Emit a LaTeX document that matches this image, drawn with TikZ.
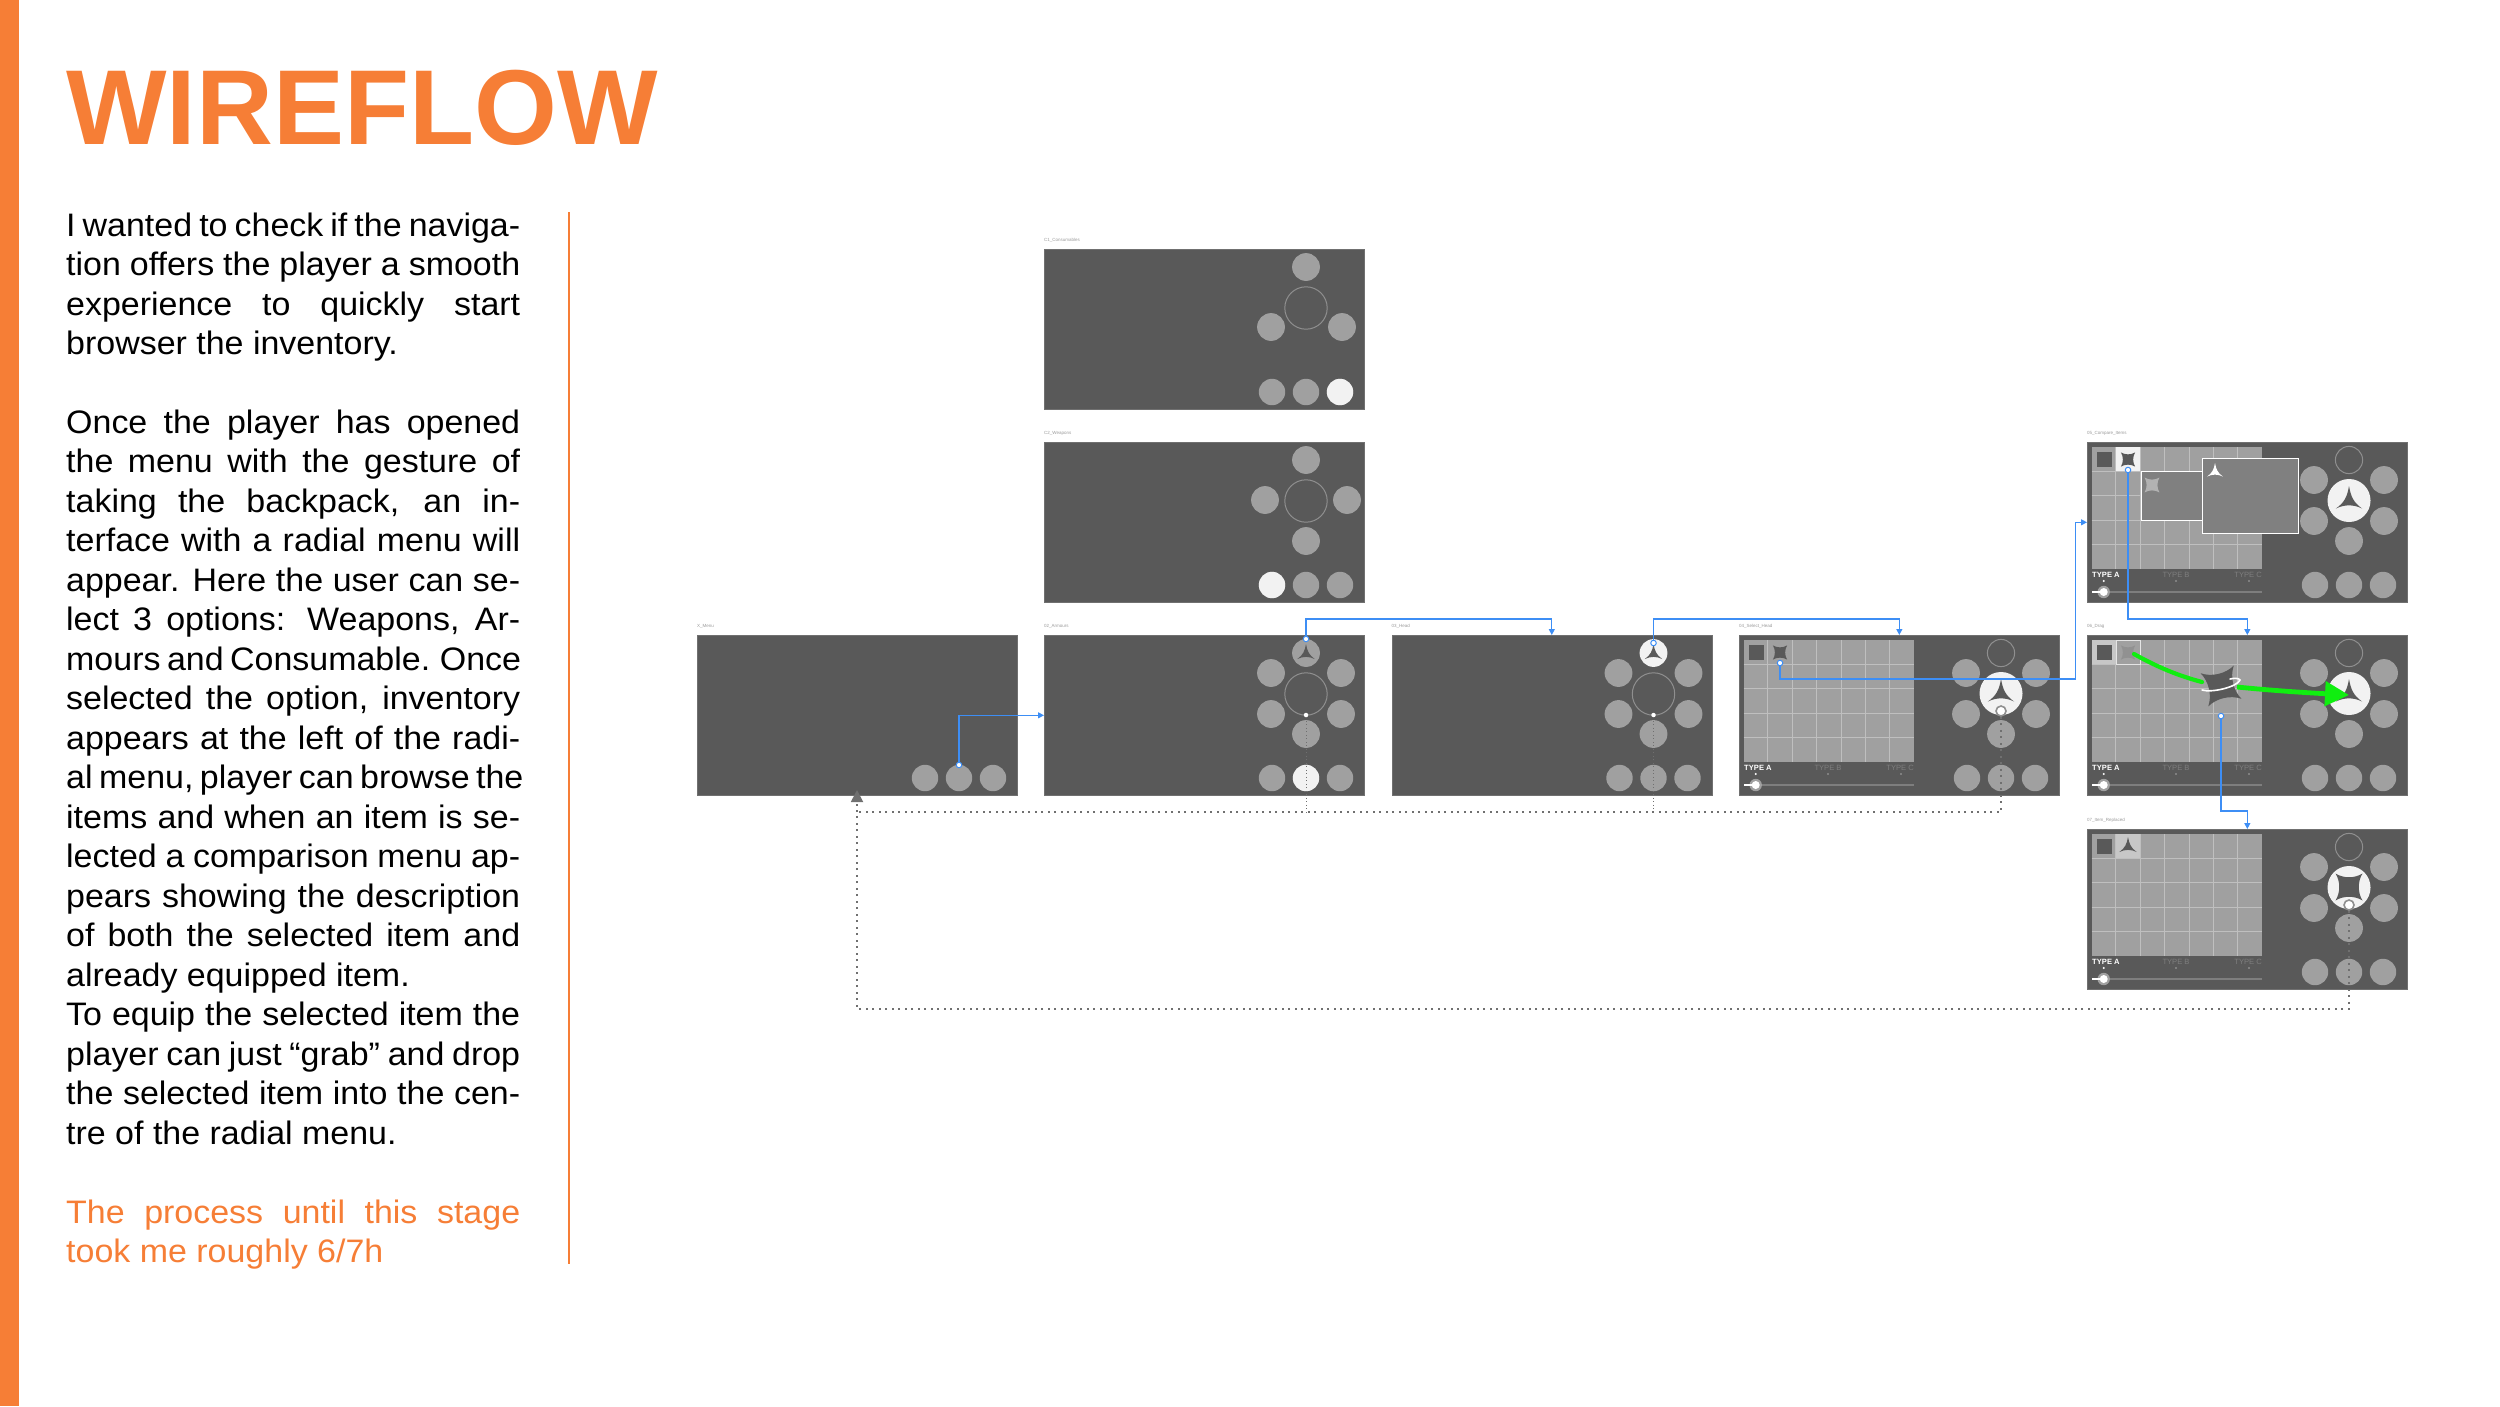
\documentclass[tikz,border=0pt]{standalone}
\usepackage{fontspec}
\setmainfont{Liberation Sans}
\newfontfamily\copyfont[FakeStretch=1.045]{Liberation Sans}
\usetikzlibrary{arrows.meta,positioning,calc}
\definecolor{brand}{HTML}{F67E36}
\definecolor{panel}{HTML}{595959}
\definecolor{knob}{HTML}{A0A0A0}
\definecolor{litknob}{HTML}{F2F2F2}
\definecolor{rim}{HTML}{8F8F8F}
\definecolor{link}{HTML}{3D8EF5}
\definecolor{backlink}{HTML}{707070}
\definecolor{dragline}{HTML}{10EE10}
\hyphenpenalty=10000
\tolerance=10000
% lines of the column that run a little long
\newcommand{\tightline}[1]{\hbox to 454pt{\spaceskip=6.5pt plus 10pt\relax #1}}
% radial menu and inventory parts, in pixels from the top left of a screen
\newcommand{\outerdiscs}{\foreach \px/\py in {227/38,297/38,227/79,297/79,262/99} {\fill[knob] (\px,\py) circle (13.9pt);}}
\newcommand{\bottomrow}[1]{\foreach \px in {228,262,296} {\fill[knob] (\px,143) circle (13.2pt);}
  \ifnum#1>0 \fill[litknob] (#1,143) circle (13.2pt);\fi}
\newcommand{\centrering}{\draw[rim,line width=1pt] (262,59) circle (21.2pt);}
\newcommand{\centredisc}{\fill[litknob] (262,58.5) circle (21.5pt);}
\newcommand{\topring}{\draw[rim,line width=1pt] (262,18) circle (13.6pt);}
\newcommand{\triicon}[4]{\fill[#4,shift={(#1,#2)},scale=#3] (0,-1) .. controls (0.12,-0.3) and (0.3,0.1) .. (0.87,0.5) .. controls (0.3,0.22) and (-0.3,0.22) .. (-0.87,0.5) .. controls (-0.3,0.1) and (-0.12,-0.3) .. (0,-1) -- cycle;}
\newcommand{\staricon}[5]{\fill[#4,shift={(#1,#2)},rotate=#5,scale=#3] (-0.71,-0.71) .. controls (-0.3,-0.45) and (0.3,-0.45) .. (0.71,-0.71) .. controls (0.45,-0.3) and (0.45,0.3) .. (0.71,0.71) .. controls (0.3,0.45) and (-0.3,0.45) .. (-0.71,0.71) .. controls (-0.45,0.3) and (-0.45,-0.3) .. (-0.71,-0.71) -- cycle;}
\newcommand{\inventory}[1]{
  \fill[knob] (4.5,5) rectangle (175,126.5);
  \foreach \k in {1,...,6} {\draw[gridline] ({4.5+24.36*\k},5) -- ({4.5+24.36*\k},126.5);}
  \foreach \k in {1,...,4} {\draw[gridline] (4.5,{5+24.3*\k}) -- (175,{5+24.3*\k});}
  \node[typetag,text=white,font=\fontsize{7.6}{8}\selectfont\bfseries,anchor=west] (#1typea) at (5,133) {TYPE A};
  \node[typetag,anchor=center] (#1typeb) at (89,133) {TYPE B};
  \node[typetag,anchor=east] (#1typec) at (175,133) {TYPE C};
  \fill[white] (16.7,139) circle (1.2pt);
  \fill[backlink!80] (89,139) circle (1.2pt) (162,139) circle (1.2pt);
  \draw[backlink!90,line width=1.6pt] (5,150) -- (175,150);
  \fill[knob] (16.7,150) circle (6.2pt);
  \draw[white,line width=1.6pt] (5,150) -- (16.7,150);
  \fill[white] (16.7,150) circle (4pt);
  \fill[panel] (9.5,10) rectangle (24.5,25);
}
\begin{document}
\begin{tikzpicture}[x=1pt,y=-1pt,
  screen/.style={fill=panel,draw=backlink,line width=0.6pt,minimum width=320pt,minimum height=160pt,inner sep=0pt,anchor=north west},
  knob/.style={fill=knob},
  tag/.style={font=\fontsize{4.5}{5}\selectfont,text=black!40,inner sep=0pt},
  typetag/.style={font=\fontsize{7.6}{8}\selectfont,text=backlink!90,inner sep=0pt},
  gridline/.style={draw=black!25,line width=0.8pt},
  hotspot/.style={circle,draw=link,fill=white,line width=1pt,minimum size=5.5pt,inner sep=0pt},
  backspot/.style={circle,fill=white,minimum size=4.5pt,inner sep=0pt},
  backring/.style={circle,draw=rim,fill=white,line width=1.6pt,minimum size=10pt,inner sep=0pt},
  flow/.style={link,line width=1.2pt,-{Triangle[length=6pt,width=6pt]}},
  backflow/.style={backlink,line width=1.8pt,dash pattern=on 1.8pt off 4.7pt},
  thinback/.style={backlink,line width=1pt,dash pattern=on 1pt off 2.5pt},
  copy/.style={anchor=north west,inner sep=0pt,text width=454pt,align=justify,font=\copyfont\fontsize{32.5}{39.5}\selectfont},
]
  \useasboundingbox (0,0) rectangle (2500,1406);
  \fill[brand] (0,0) rectangle (19,1406);
  \node[font=\fontsize{106.5}{110}\selectfont\bfseries,text=brand,anchor=base west,inner sep=0pt] (title) at (66,144) {WIREFLOW};

  \node[copy] (intro) at (66,212.5) {I wanted to check if the naviga-\linebreak
    tion offers the player a smooth\linebreak
    experience to quickly start\linebreak
    browser the inventory.};
  \node[copy] (story) at (66,409.5) {Once the player has opened\linebreak
    the menu with the gesture of\linebreak
    taking the backpack, an in-\linebreak
    terface with a radial menu will\linebreak
    appear. Here the user can se-\linebreak
    lect 3 options: Weapons, Ar-\linebreak
    \tightline{mours and Consumable. Once}\linebreak
    selected the option, inventory\linebreak
    appears at the left of the radi-\linebreak
    \tightline{al menu, player can browse the}\linebreak
    items and when an item is se-\linebreak
    lected a comparison menu ap-\linebreak
    pears showing the description\linebreak
    of both the selected item and\linebreak
    already equipped item.\\
    To equip the selected item the\linebreak
    player can just “grab” and drop\linebreak
    the selected item into the cen-\linebreak
    tre of the radial menu.};
  \node[copy,text=brand] (closing) at (66,1199.5) {The process until this stage\linebreak
    took me roughly 6/7h};
  \coordinate (ruletop) at (569,212);
  \coordinate (rulebottom) at (569,1264);
  \draw[brand,line width=1.2pt] (ruletop) -- (rulebottom);

  \node[screen] (consumables) at (1044,249) {};
  \node[screen] (weapons) at (1044,442) {};
  \node[screen] (menu) at (697,635) {};
  \node[screen] (armours) at (1044,635) {};
  \node[screen] (head) at (1391.5,635) {};
  \node[screen] (selecthead) at (1739,635) {};
  \node[screen] (compare) at (2087,442) {};
  \node[screen] (drag) at (2087,635) {};
  \node[screen] (replaced) at (2087,829) {};

  \node[tag,above right=6pt and 0pt of consumables.north west] (consumablestag) {C1\_Consumables};
  \node[tag,above right=6pt and 0pt of weapons.north west] (weaponstag) {C2\_Weapons};
  \node[tag,above right=6pt and 0pt of menu.north west] (menutag) {X\_Menu};
  \node[tag,above right=6pt and 0pt of armours.north west] (armourstag) {02\_Armours};
  \node[tag,above right=6pt and 0pt of head.north west] (headtag) {03\_Head};
  \node[tag,above right=6pt and 0pt of selecthead.north west] (selectheadtag) {04\_Select\_Head};
  \node[tag,above right=6pt and 0pt of compare.north west] (comparetag) {05\_Compare\_Items};
  \node[tag,above right=6pt and 0pt of drag.north west] (dragtag) {06\_Drag};
  \node[tag,above right=6pt and 0pt of replaced.north west] (replacedtag) {07\_Item\_Replaced};

  \begin{scope}[shift={(consumables.north west)}]
    \foreach \px/\py in {262/18,227/78,298/78} {\fill[knob] (\px,\py) circle (13.9pt);}
    \centrering
    \bottomrow{296}
  \end{scope}
  \begin{scope}[shift={(weapons.north west)}]
    \foreach \px/\py in {262/18,221/58,303/58,262/99} {\fill[knob] (\px,\py) circle (13.9pt);}
    \centrering
    \bottomrow{228}
  \end{scope}
  \begin{scope}[shift={(menu.north west)}]
    \bottomrow{0}
    \node[hotspot] (menuspot) at (262,130) {};
  \end{scope}
  \begin{scope}[shift={(armours.north west)}]
    \outerdiscs
    \fill[knob] (262,18) circle (13.9pt);
    \triicon{262}{19}{10}{panel}
    \centrering
    \bottomrow{262}
    \node[hotspot] (armoursspot) at (262,4) {};
    \node[backspot] (armoursback) at (262,80) {};
  \end{scope}
  \begin{scope}[shift={(head.north west)}]
    \outerdiscs
    \fill[litknob] (262,18) circle (13.9pt);
    \triicon{262}{19}{10}{panel}
    \centrering
    \bottomrow{0}
    \node[hotspot] (headspot) at (262,8) {};
    \node[backspot] (headback) at (262,80) {};
  \end{scope}
  \begin{scope}[shift={(selecthead.north west)}]
    \inventory{selecthead}
    \staricon{41}{17.5}{10}{panel}{0}
    \outerdiscs
    \topring
    \centredisc
    \triicon{262}{59}{15}{panel}
    \bottomrow{0}
    \node[hotspot] (selectheadspot) at (41,28) {};
    \node[backring] (selectheadback) at (262,76) {};
  \end{scope}
  \begin{scope}[shift={(compare.north west)}]
    \inventory{compare}
    \fill[litknob] (28.9,5) rectangle (53.2,29.3);
    \staricon{41}{17.5}{10}{panel}{0}
    \outerdiscs
    \topring
    \centredisc
    \triicon{262}{59}{15}{panel}
    \bottomrow{0}
    \draw[white,fill=black!50,line width=1pt] (54,29) rectangle (115,78);
    \staricon{65}{43}{10.5}{black!30}{0}
    \draw[white,fill=black!50,line width=1pt] (115,16) rectangle (211,91);
    \triicon{128}{30}{9}{white}
    \node[hotspot] (comparespot) at (41,28) {};
  \end{scope}
  \begin{scope}[shift={(drag.north west)}]
    \inventory{drag}
    \fill[black!22] (4.5,5) rectangle (28.9,29.3);
    \fill[panel] (9.5,10) rectangle (24.5,25);
    \draw[black!10,fill=knob,line width=1pt] (29.4,5.5) rectangle (53.2,29.3);
    \staricon{41}{17.5}{10}{black!43}{0}
    \outerdiscs
    \topring
    \centredisc
    \triicon{262}{59}{15}{panel}
    \bottomrow{0}
    \coordinate (dragcell) at (47,19);
    \coordinate (dragmid) at (115,47);
    \coordinate (dragrise) at (150,52);
    \coordinate (dragdrop) at (262,60);
    \draw[dragline,line width=4.2pt,line cap=round] (dragcell) .. controls (70,32) and (92,41) .. (dragmid);
    \draw[dragline,line width=4.8pt,-{Triangle[length=24pt,width=24pt]}] (dragrise) .. controls (190,56) and (225,58) .. (dragdrop);
    \staricon{134}{51}{24}{panel}{13}
    \draw[white,line width=1.6pt,line cap=round] (115,55) .. controls (125,58) and (150,52) .. (153,45) .. controls (152,43) and (147,43) .. (143,44);
    \node[hotspot] (dragspot) at (134,81) {};
  \end{scope}
  \begin{scope}[shift={(replaced.north west)}]
    \inventory{replaced}
    \fill[black!22] (28.9,5) rectangle (53.2,29.3);
    \triicon{41}{18}{10}{panel}
    \outerdiscs
    \topring
    \centredisc
    \staricon{262}{58}{19}{panel}{0}
    \bottomrow{0}
    \node[backring] (replacedback) at (262,76) {};
  \end{scope}

  \coordinate (menuin) at (857,790);
  \coordinate (backline) at (857,812);
  \draw[flow] (menuspot) |- (armours.west);
  \draw[flow] (armoursspot) -- ++(0,-20) -| (head.north);
  \draw[flow] (headspot) -- ++(0,-24) -| (selecthead.north);
  \draw[flow] (selectheadspot) -- ++(0,16) -| ($(compare.west)+(-11.5,0)$) -- (compare.west);
  \draw[flow] (comparespot) -- ++(0,149) -| (drag.north);
  \draw[flow] (dragspot) -- ++(0,95) -| (replaced.north);

  \draw[thinback] (armoursback) -- (armoursback |- backline);
  \draw[thinback] (headback) -- (headback |- backline);
  \draw[backflow] (selectheadback) |- (backline);
  \draw[backflow] (replacedback) |- (857,1009) -- (backline);
  \draw[backflow,-{Triangle[length=12pt,width=12pt]}] (backline) -- (menuin);
\end{tikzpicture}
\end{document}
